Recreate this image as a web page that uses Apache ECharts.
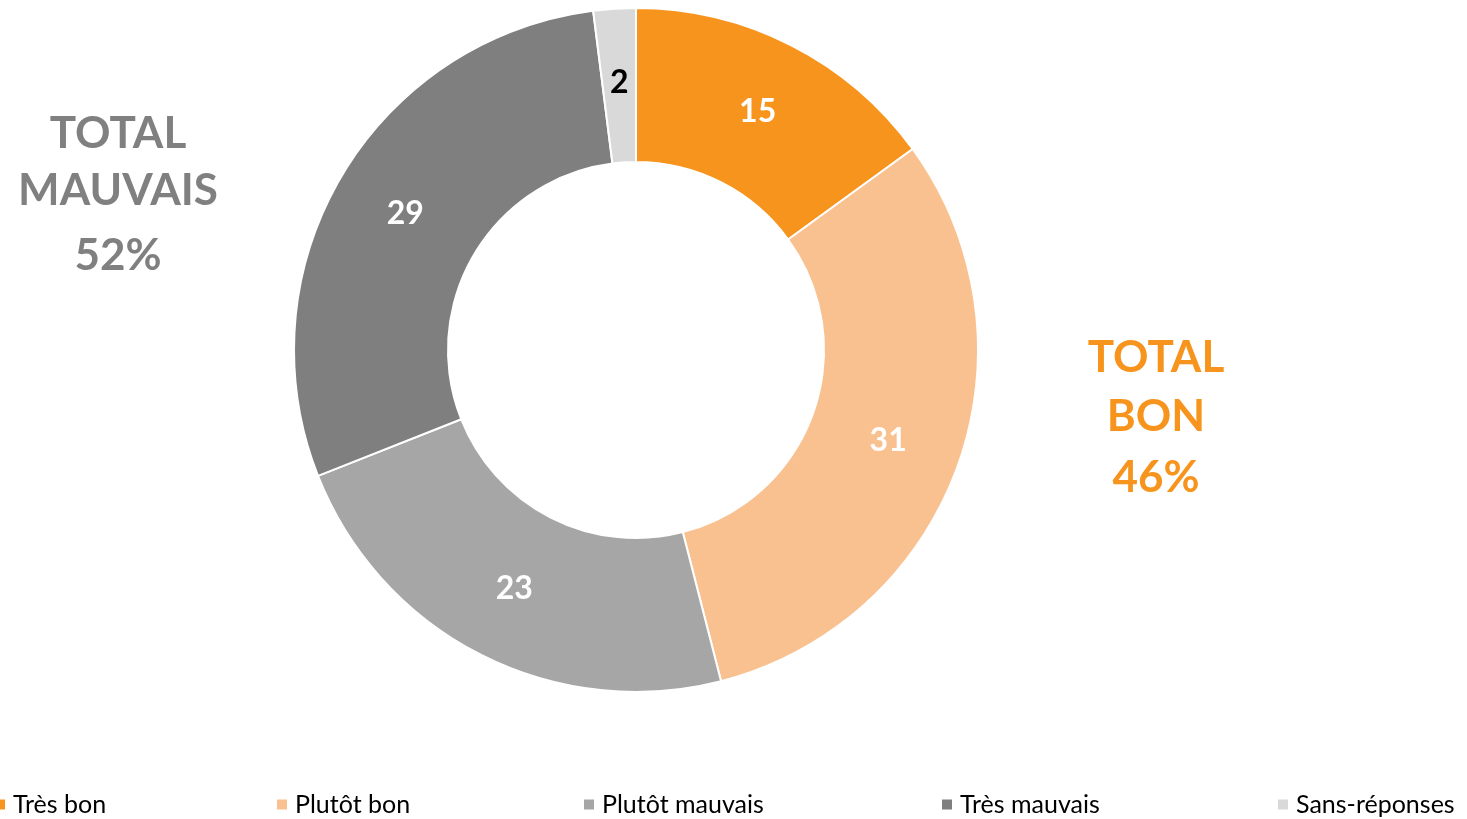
<!DOCTYPE html>
<html>
<head>
<meta charset="utf-8">
<script src="https://cdn.jsdelivr.net/npm/echarts@6/dist/echarts.min.js"></script>
<style>
html,body{margin:0;padding:0;background:#fff;}
#main{width:1467px;height:819px;}
</style>
</head>
<body>
<div id="main"></div>
<script>
// données
var categories = ['Très bon', 'Plutôt bon', 'Plutôt mauvais', 'Très mauvais', 'Sans-réponses'];
var values = [15, 31, 23, 29, 2];
var colors = ['#F7941D', '#F9C190', '#A6A6A6', '#7F7F7F', '#D9D9D9'];
var labelColors = ['#fff', '#fff', '#fff', '#fff', '#000'];
var legendLeft = [-7, 275, 582, 940, 1276];
var totalBon = ['TOTAL', 'BON', '46%'];
var totalMauvais = ['TOTAL', 'MAUVAIS', '52%'];

var font = 'Lato, "Open Sans", sans-serif';

var dataList = [];
categories.forEach(function (name, i) {
	dataList.push({
		name: name,
		value: values[i],
		itemStyle: { color: colors[i] },
		label: { color: labelColors[i] }
	});
});

// une légende par élément (espacement irrégulier)
var legends = [];
categories.forEach(function (name, i) {
	legends.push({
		data: [name],
		left: legendLeft[i],
		top: 792,
		padding: 0,
		icon: 'rect',
		itemWidth: 12,
		itemHeight: 12,
		itemGap: 0,
		selectedMode: false,
		textStyle: { color: '#000', fontSize: 25, fontFamily: font, padding: [0, 0, 0, 2] }
	});
});

// textes TOTAL (une ligne par élément)
var graphics = [];
function addBlock(lines, x, ys, color) {
	lines.forEach(function (t, i) {
		graphics.push({
			type: 'text',
			x: x,
			y: ys[i],
			style: {
				text: t,
				align: 'center',
				verticalAlign: 'middle',
				fill: color,
				font: 'bold 44px ' + font
			}
		});
	});
}
addBlock(totalMauvais, 118, [134, 191, 256], '#808080');
addBlock(totalBon, 1156, [358, 417, 478], '#F7941D');

var myChart = echarts.init(document.getElementById('main'));
var option = {
	color: colors,
	legend: legends,
	graphic: graphics,
	series: [
		{
			type: 'pie',
			center: [636, 350],
			radius: [188, 342],
			startAngle: 90,
			clockwise: true,
			avoidLabelOverlap: false,
			itemStyle: { borderColor: '#fff', borderWidth: 2 },
			label: {
				show: true,
				position: 'inside',
				formatter: '{c}',
				fontSize: 32,
				fontWeight: 'bold',
				fontFamily: font
			},
			labelLine: { show: false },
			emphasis: { disabled: true },
			data: dataList
		}
	]
};
myChart.setOption(option, true);
</script>
</body>
</html>
